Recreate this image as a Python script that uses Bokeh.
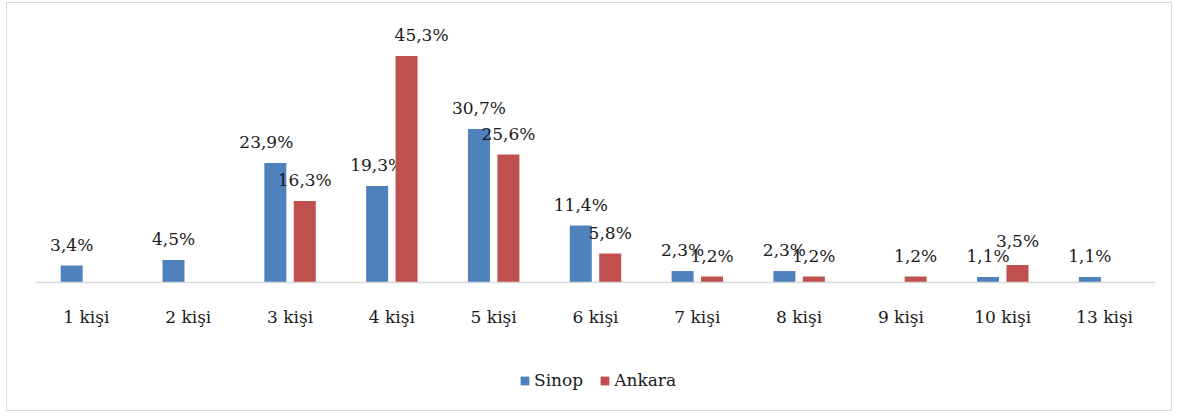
from bokeh.plotting import figure
from bokeh.models import ColumnDataSource, FactorRange, Range1d, Legend, LegendItem, Span
from bokeh.transform import dodge
from bokeh.core.properties import value
from bokeh.embed import file_html
from bokeh.resources import INLINE

categories = ["1 kişi", "2 kişi", "3 kişi", "4 kişi", "5 kişi", "6 kişi",
              "7 kişi", "8 kişi", "9 kişi", "10 kişi", "13 kişi"]
sinop = [3.4, 4.5, 23.9, 19.3, 30.7, 11.4, 2.3, 2.3, None, 1.1, 1.1]
ankara = [None, None, 16.3, 45.3, 25.6, 5.8, 1.2, 1.2, 1.2, 3.5, None]
series_names = ["Sinop", "Ankara"]
colors = ["#4F81BD", "#C0504D"]

# style: label nudges in px, (series index, category) -> (dx, dy)
label_nudges = {(1, "4 kişi"): (15, 0), (0, "3 kişi"): (-9, 0), (1, "10 kişi"): (0, -3)}

FONT = "DejaVu Serif"
TXT = "#1a1a1a"

# frame extends below zero so that category labels and the legend sit inside it
p = figure(x_range=FactorRange(factors=categories, range_padding=0),
           y_range=Range1d(-24, 52),
           width=1166, height=409,
           output_backend="svg", toolbar_location=None,
           min_border_left=28, min_border_right=18,
           min_border_top=19, min_border_bottom=10)

p.styles = {"border": "1.5px solid #d9d9d9", "margin-left": "6px", "margin-top": "2px"}
p.outline_line_color = None
p.xgrid.grid_line_color = None
p.ygrid.grid_line_color = None
p.xaxis.visible = False
p.yaxis.visible = False

# category axis baseline at zero
p.add_layout(Span(location=0, dimension="width", line_color="#d9d9d9", line_width=1.5))

offsets = [-0.1445, 0.1445]
items = []
for i, (name, vals) in enumerate(zip(series_names, [sinop, ankara])):
    cats = [c for c, v in zip(categories, vals) if v is not None]
    vs = [v for v in vals if v is not None]
    labels = [("%.1f%%" % v).replace(".", ",") for v in vs]
    dx = [label_nudges.get((i, c), (0, 0))[0] for c in cats]
    dy = [-11 + label_nudges.get((i, c), (0, 0))[1] for c in cats]
    src = ColumnDataSource(dict(cat=cats, val=vs, label=labels, dx=dx, dy=dy))
    r = p.vbar(x=dodge("cat", offsets[i], range=p.x_range), top="val", width=0.216,
               source=src, fill_color=colors[i], line_color=None)
    p.text(x=dodge("cat", offsets[i], range=p.x_range), y="val", text="label",
           x_offset="dx", y_offset="dy", source=src,
           text_align="center", text_baseline="bottom",
           text_font=value(FONT), text_font_size="17px", text_color=TXT)
    items.append(LegendItem(label=name, renderers=[r]))

# category tick labels, placed on the categorical scale just below zero
cat_src = ColumnDataSource(dict(cat=categories, base=[0] * len(categories)))
p.text(x="cat", y="base", text="cat", source=cat_src, y_offset=24,
       text_align="center", text_baseline="top",
       text_font=value(FONT), text_font_size="17px", text_color=TXT)

legend = Legend(items=items, orientation="horizontal", location=(484, 12),
                border_line_alpha=0, background_fill_alpha=0,
                label_text_font=FONT, label_text_font_size="17px",
                label_text_color=TXT,
                glyph_width=11, glyph_height=11, label_standoff=4, spacing=16,
                padding=0, margin=0)
p.add_layout(legend, "center")

open("out.html", "w").write(file_html(p, INLINE))
